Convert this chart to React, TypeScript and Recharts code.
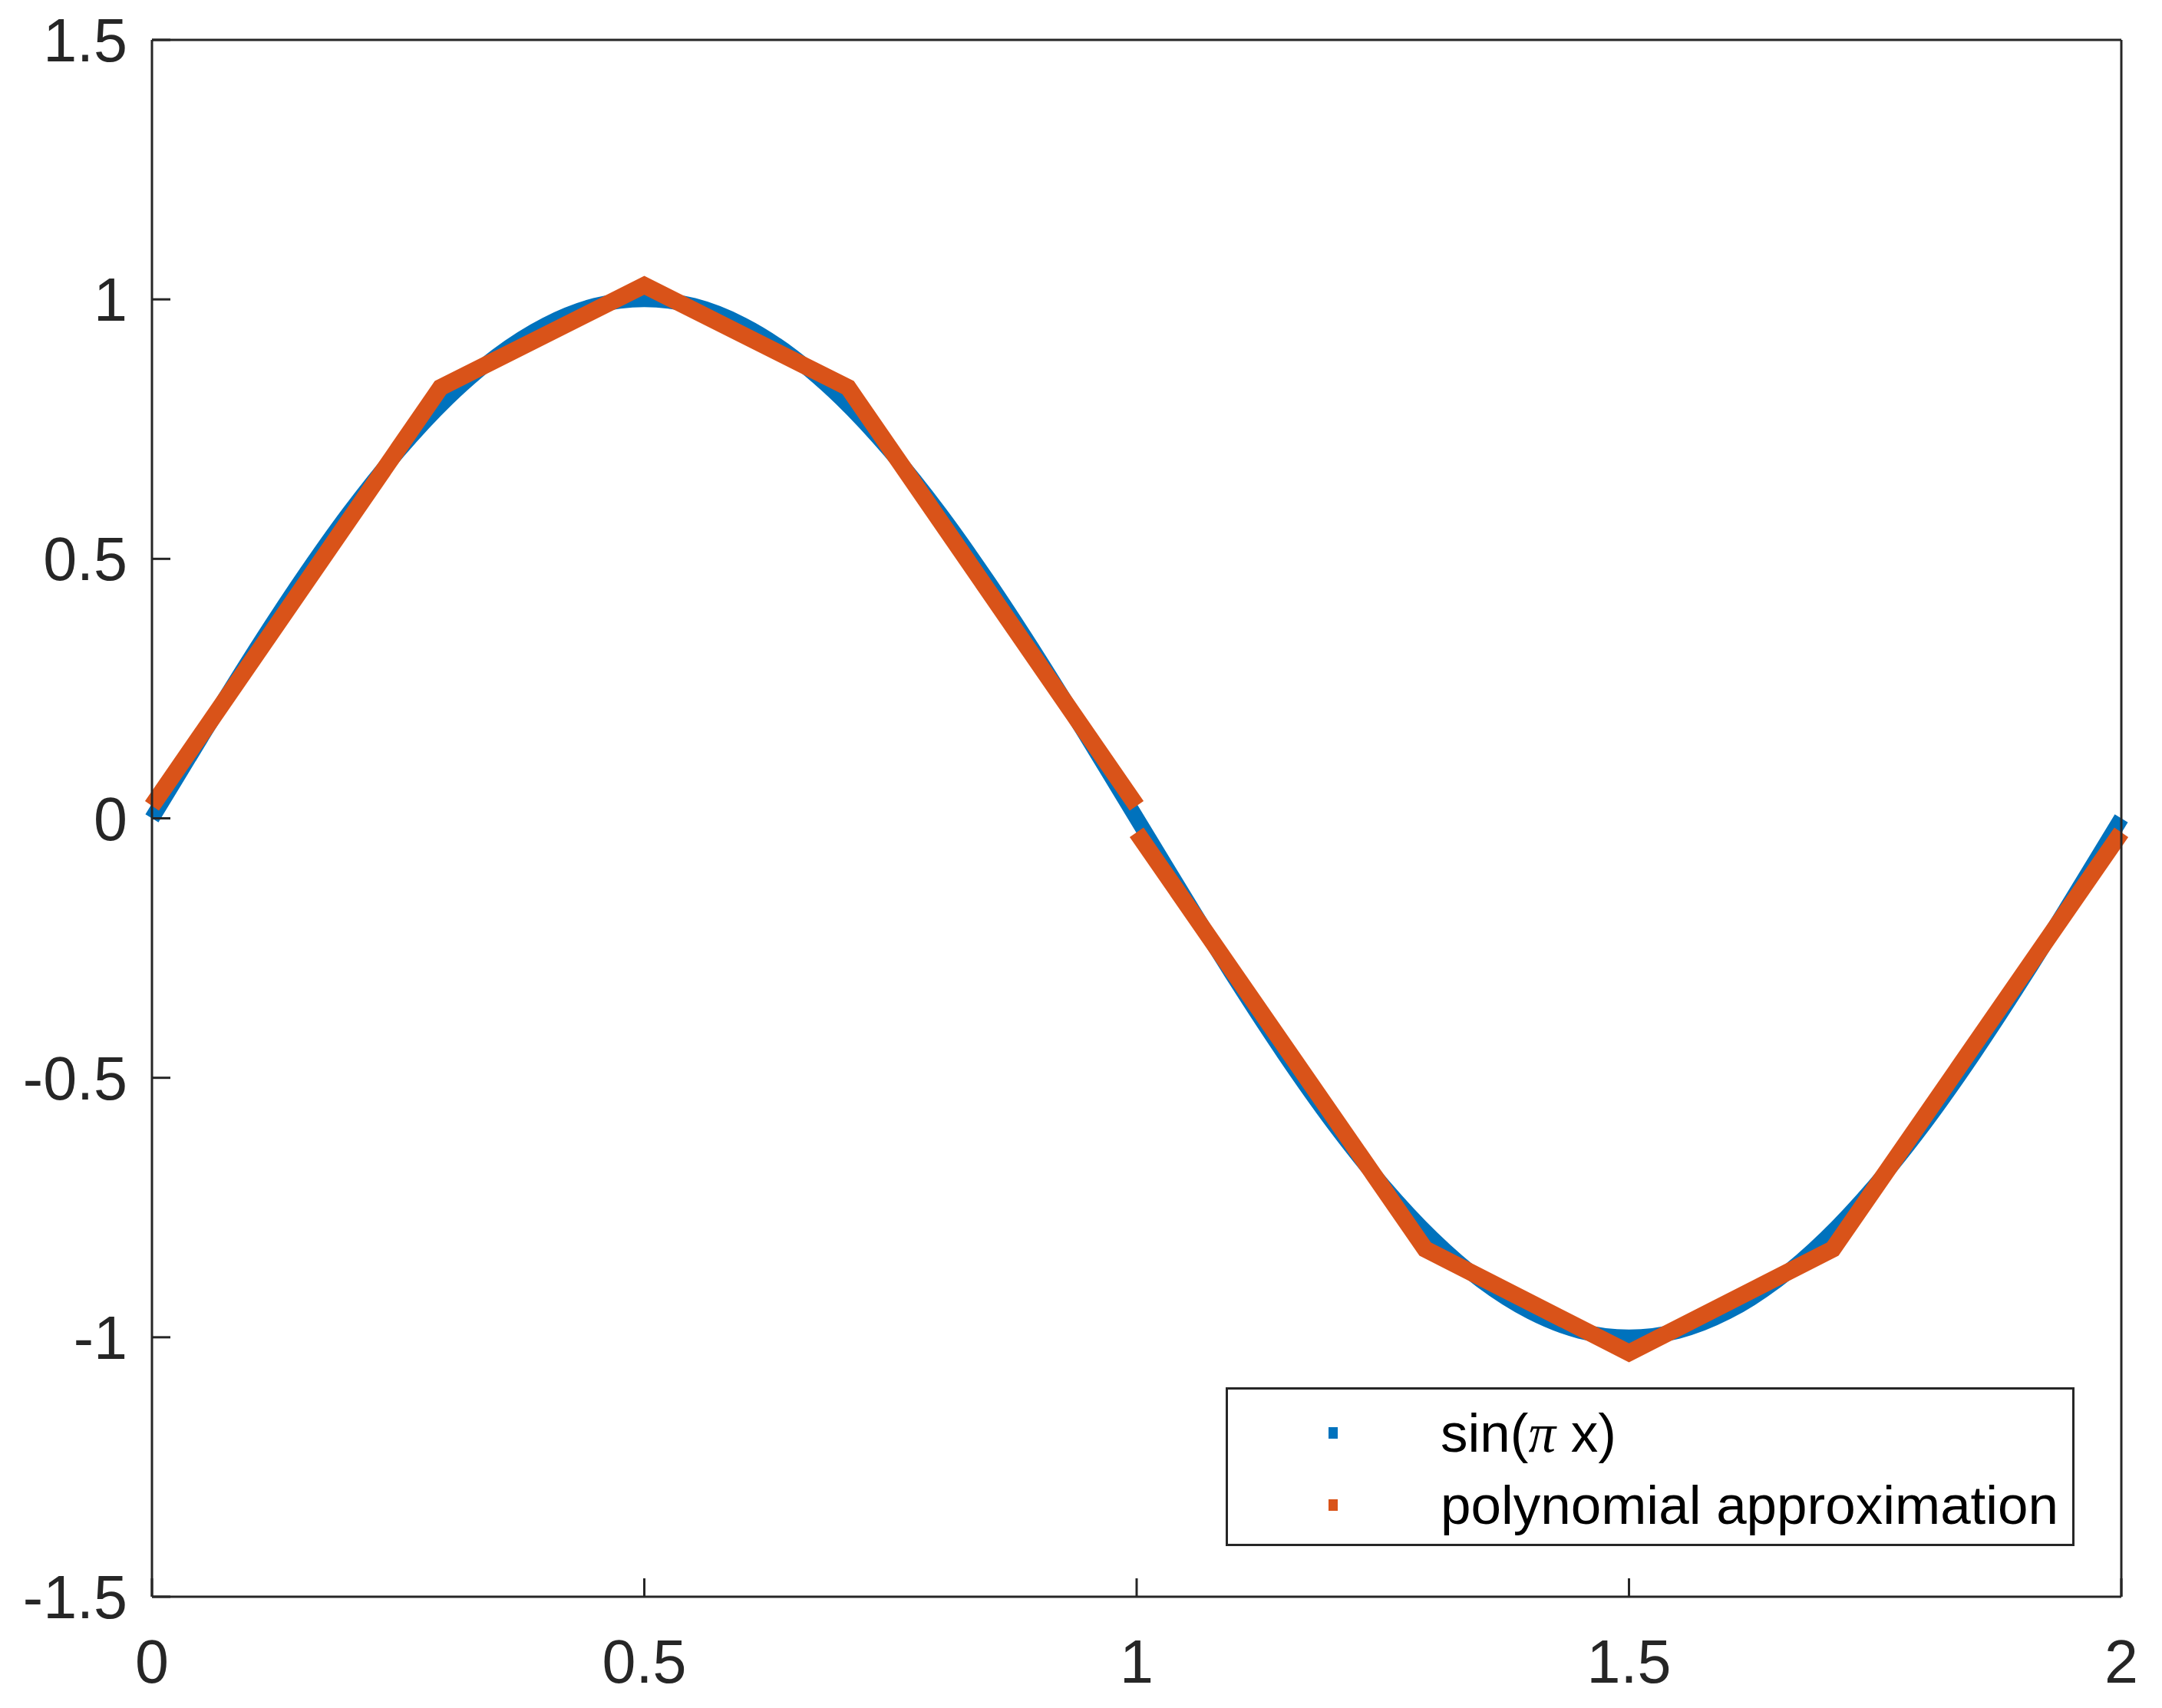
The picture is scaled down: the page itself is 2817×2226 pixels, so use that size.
import React from 'react';
import { LineChart, Line, XAxis, YAxis } from 'recharts';

const sinX = [
  0, 0.05, 0.1, 0.15, 0.2, 0.25, 0.3, 0.35, 0.4, 0.45, 0.5, 0.55, 0.6, 0.65, 0.7, 0.75, 0.8, 0.85, 0.9, 0.95,
  1, 1.05, 1.1, 1.15, 1.2, 1.25, 1.3, 1.35, 1.4, 1.45, 1.5, 1.55, 1.6, 1.65, 1.7, 1.75, 1.8, 1.85, 1.9, 1.95, 2,
];
const sinY = [
  0, 0.156, 0.309, 0.454, 0.588, 0.707, 0.809, 0.891, 0.951, 0.988, 1, 0.988, 0.951, 0.891, 0.809, 0.707, 0.588,
  0.454, 0.309, 0.156, 0, -0.156, -0.309, -0.454, -0.588, -0.707, -0.809, -0.891, -0.951, -0.988, -1, -0.988,
  -0.951, -0.891, -0.809, -0.707, -0.588, -0.454, -0.309, -0.156, 0,
];

// polynomial approximation, two separate pieces on [0,1] and [1,2]
const polyLeftX = [0, 0.293, 0.5, 0.707, 1];
const polyLeftY = [0.024, 0.83, 1.027, 0.83, 0.024];
const polyRightX = [1, 1.293, 1.5, 1.707, 2];
const polyRightY = [-0.027, -0.83, -1.03, -0.83, -0.027];

const xTicks = [0, 0.5, 1, 1.5, 2];
const yTicks = [-1.5, -1, -0.5, 0, 0.5, 1, 1.5];

const seriesNames = ['sin(π x)', 'polynomial approximation'];
const seriesColors = ['#0072BD', '#D95319'];

const sinData = sinX.map((x, i) => ({ x, y: sinY[i] }));
const polyLeft = polyLeftX.map((x, i) => ({ x, y: polyLeftY[i] }));
const polyRight = polyRightX.map((x, i) => ({ x, y: polyRightY[i] }));

const AXIS = '#262626';
const FONT = '"Liberation Sans", Arial, Helvetica, sans-serif';

const tickStyle = { fill: AXIS, fontSize: 79, fontFamily: FONT };
const axisLineStyle = { stroke: AXIS, strokeWidth: 3 };
const tickLineStyle = { stroke: AXIS, strokeWidth: 3 };

function LegendBox() {
  return (
    <svg
      width={1106}
      height={207}
      style={{ position: 'absolute', left: 1597, top: 1808 }}
    >
      <rect x={1.5} y={1.5} width={1103} height={204} fill="#fff" stroke={AXIS} strokeWidth={3} />
      {seriesNames.map((name, i) => (
        <g key={name}>
          <rect x={134} y={52 + i * 94} width={12} height={15} fill={seriesColors[i]} />
          <text x={280} y={84 + i * 94} fontSize={71} fontFamily={FONT} fill="#000">
            {i === 0 ? (
              <>
                sin(<tspan fontStyle="italic" fontFamily="'Liberation Serif', 'Times New Roman', serif">π</tspan> x)
              </>
            ) : (
              name
            )}
          </text>
        </g>
      ))}
    </svg>
  );
}

export default function App() {
  return (
    <div style={{ position: 'absolute', left: 0, top: 0, width: 2817, height: 2226, background: '#fff' }}>
      <LineChart width={2817} height={2226} margin={{ top: 0, right: 0, bottom: 0, left: 0 }}>
        <XAxis
          xAxisId="bottom"
          dataKey="x"
          type="number"
          domain={[0, 2]}
          ticks={xTicks}
          allowDuplicatedCategory={false}
          height={145}
          axisLine={axisLineStyle}
          tickLine={tickLineStyle}
          tickSize={-24}
          tickMargin={80}
          tick={tickStyle}
          interval={0}
        />
        <XAxis
          xAxisId="top"
          orientation="top"
          dataKey="x"
          type="number"
          domain={[0, 2]}
          ticks={xTicks}
          height={52}
          axisLine={axisLineStyle}
          tickLine={tickLineStyle}
          tickSize={-24}
          tickFormatter={() => ''}
          interval={0}
        />
        <YAxis
          yAxisId="left"
          type="number"
          domain={[-1.5, 1.5]}
          ticks={yTicks}
          width={198}
          axisLine={axisLineStyle}
          tickLine={tickLineStyle}
          tickSize={-24}
          tickMargin={56}
          tick={tickStyle}
          interval={0}
        />
        <YAxis
          yAxisId="right"
          orientation="right"
          type="number"
          domain={[-1.5, 1.5]}
          ticks={yTicks}
          width={53}
          axisLine={axisLineStyle}
          tickLine={tickLineStyle}
          tickSize={-24}
          tickFormatter={() => ''}
          interval={0}
        />
        <Line
          xAxisId="bottom"
          yAxisId="left"
          data={sinData}
          dataKey="y"
          type="monotone"
          stroke={seriesColors[0]}
          strokeWidth={20}
          dot={false}
          activeDot={false}
          isAnimationActive={false}
        />
        <Line
          xAxisId="bottom"
          yAxisId="left"
          data={polyLeft}
          dataKey="y"
          type="linear"
          stroke={seriesColors[1]}
          strokeWidth={22}
          dot={false}
          activeDot={false}
          isAnimationActive={false}
        />
        <Line
          xAxisId="bottom"
          yAxisId="left"
          data={polyRight}
          dataKey="y"
          type="linear"
          stroke={seriesColors[1]}
          strokeWidth={22}
          dot={false}
          activeDot={false}
          isAnimationActive={false}
        />
      </LineChart>
      <LegendBox />
    </div>
  );
}
